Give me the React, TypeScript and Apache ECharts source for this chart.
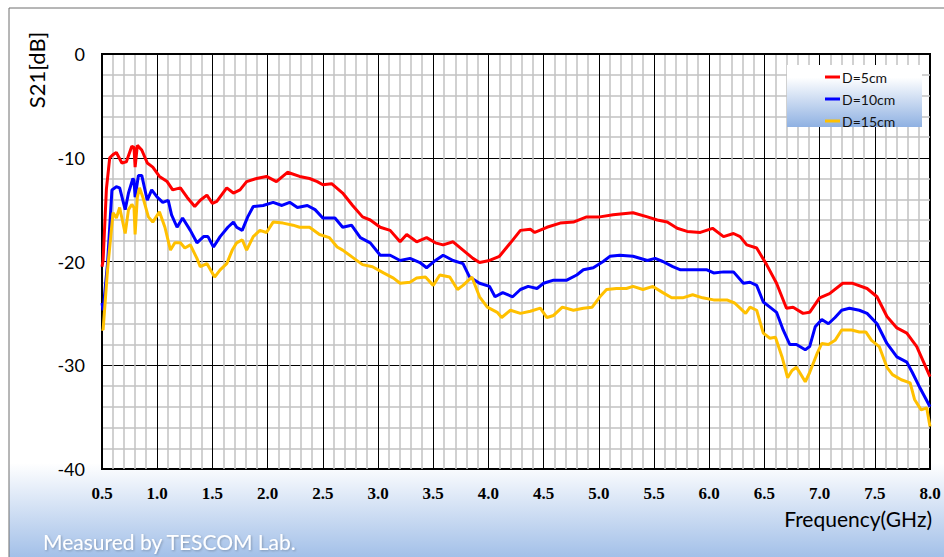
import React, { useEffect, useRef } from "react";
import * as echarts from "echarts";

const xTicks = [0.5, 1.0, 1.5, 2.0, 2.5, 3.0, 3.5, 4.0, 4.5, 5.0, 5.5, 6.0, 6.5, 7.0, 7.5, 8.0];
const yTicks = [0, -10, -20, -30, -40];
const seriesNames = ["D=5cm", "D=10cm", "D=15cm"];
const seriesColors = ["#ff0000", "#0000ff", "#ffc000"];

const red5cm: [number, number][] = [
  [0.5, -20.5], [0.51, -19.9], [0.54, -13], [0.57, -10.0], [0.6, -9.7], [0.63, -9.5], [0.68, -10.5], [0.72, -10.4],
  [0.77, -8.9], [0.79, -9.0], [0.8, -10.9], [0.82, -8.8], [0.86, -9.25], [0.91, -10.5], [0.96, -10.9], [1.02, -11.8],
  [1.09, -12.3], [1.14, -13.1], [1.21, -12.9], [1.27, -13.8], [1.34, -14.7], [1.39, -14.1], [1.45, -13.6], [1.5, -14.4],
  [1.54, -14.2], [1.63, -12.9], [1.69, -13.4], [1.75, -13.1], [1.81, -12.3], [1.9, -12.0], [1.99, -11.8], [2.08, -12.3],
  [2.18, -11.4], [2.29, -11.8], [2.38, -12.0], [2.45, -12.3], [2.5, -12.6], [2.58, -12.5], [2.68, -13.4], [2.77, -14.6],
  [2.86, -15.7], [2.93, -16.0], [3.02, -16.7], [3.11, -17.0], [3.2, -18.1], [3.26, -17.4], [3.35, -18.1], [3.44, -17.7],
  [3.52, -18.2], [3.59, -18.4], [3.68, -18.1], [3.77, -18.9], [3.86, -19.7], [3.92, -20.1], [4.01, -19.9], [4.1, -19.5],
  [4.2, -18.2], [4.29, -17.0], [4.38, -16.9], [4.42, -17.2], [4.53, -16.7], [4.65, -16.3], [4.77, -16.2], [4.89, -15.7],
  [5.01, -15.7], [5.13, -15.5], [5.31, -15.3], [5.44, -15.7], [5.53, -16.0], [5.62, -16.2], [5.71, -16.8], [5.8, -17.1],
  [5.92, -17.2], [6.03, -16.8], [6.13, -17.6], [6.22, -17.3], [6.28, -17.6], [6.34, -18.4], [6.43, -18.7], [6.52, -20.3],
  [6.61, -22.1], [6.7, -24.5], [6.76, -24.4], [6.85, -25.0], [6.91, -24.9], [7.0, -23.5], [7.09, -23.1], [7.21, -22.1],
  [7.3, -22.1], [7.43, -22.6], [7.52, -23.4], [7.61, -25.3], [7.7, -26.4], [7.79, -26.9], [7.88, -28.2], [8.0, -31.1],
];

const blue10cm: [number, number][] = [
  [0.5, -24.0], [0.51, -24.7], [0.55, -20.2], [0.59, -13.1], [0.63, -12.8], [0.66, -12.9], [0.71, -15.0], [0.74, -13.4],
  [0.78, -12.0], [0.79, -12.2], [0.8, -13.8], [0.83, -11.7], [0.86, -11.7], [0.91, -14.1], [0.95, -13.1], [1.0, -13.8],
  [1.05, -14.3], [1.1, -14.1], [1.13, -15.5], [1.18, -16.7], [1.23, -15.8], [1.3, -17.0], [1.36, -18.2], [1.42, -17.6],
  [1.46, -17.6], [1.51, -18.6], [1.57, -17.6], [1.64, -16.7], [1.69, -16.2], [1.72, -16.7], [1.77, -17.0], [1.82, -15.7],
  [1.87, -14.7], [1.96, -14.6], [2.05, -14.3], [2.13, -14.6], [2.2, -14.3], [2.27, -14.8], [2.36, -14.6], [2.43, -15.0],
  [2.5, -15.8], [2.61, -15.8], [2.68, -16.7], [2.76, -16.5], [2.84, -17.7], [2.93, -18.2], [3.02, -19.4], [3.11, -19.4],
  [3.2, -19.9], [3.29, -19.7], [3.38, -20.1], [3.44, -20.6], [3.52, -19.9], [3.59, -19.4], [3.68, -19.9], [3.77, -20.2],
  [3.83, -21.5], [3.92, -22.1], [4.01, -22.4], [4.06, -23.4], [4.13, -23.0], [4.22, -23.4], [4.29, -22.7], [4.36, -22.4],
  [4.44, -22.6], [4.5, -22.1], [4.59, -21.8], [4.71, -21.8], [4.8, -21.3], [4.86, -20.8], [4.95, -20.6], [5.04, -20.0],
  [5.1, -19.5], [5.19, -19.4], [5.31, -19.5], [5.44, -19.9], [5.51, -19.7], [5.58, -20.0], [5.67, -20.5], [5.74, -20.8],
  [5.86, -20.8], [5.98, -20.8], [6.04, -21.1], [6.13, -21.0], [6.22, -21.0], [6.31, -22.1], [6.37, -22.0], [6.43, -22.3],
  [6.49, -23.9], [6.55, -24.4], [6.61, -24.9], [6.67, -26.6], [6.73, -28.0], [6.79, -28.0], [6.87, -28.5], [6.91, -28.2],
  [6.96, -26.3], [7.02, -25.6], [7.08, -26.0], [7.14, -25.4], [7.2, -24.7], [7.27, -24.5], [7.36, -24.7], [7.43, -25.0],
  [7.52, -26.0], [7.61, -27.9], [7.7, -29.2], [7.79, -29.7], [7.84, -30.7], [7.91, -32.2], [8.0, -34.0],
];

const yellow15cm: [number, number][] = [
  [0.5, -26.5], [0.51, -26.6], [0.55, -20.8], [0.6, -15.3], [0.63, -15.8], [0.66, -14.8], [0.71, -17.3], [0.74, -15.0],
  [0.77, -14.5], [0.79, -14.8], [0.8, -17.4], [0.82, -13.8], [0.84, -12.9], [0.87, -13.8], [0.92, -15.7], [0.96, -16.2],
  [1.02, -15.2], [1.07, -16.7], [1.12, -18.9], [1.16, -18.2], [1.21, -18.2], [1.25, -18.7], [1.3, -18.4], [1.36, -19.7],
  [1.39, -20.5], [1.45, -20.2], [1.52, -21.5], [1.57, -20.8], [1.63, -20.2], [1.68, -18.9], [1.72, -18.2], [1.77, -17.9],
  [1.81, -18.9], [1.87, -17.6], [1.93, -17.0], [1.99, -17.2], [2.05, -16.2], [2.14, -16.3], [2.23, -16.5], [2.29, -16.7],
  [2.38, -16.7], [2.47, -17.4], [2.56, -17.7], [2.63, -18.6], [2.68, -18.9], [2.77, -19.6], [2.86, -20.3], [2.95, -20.5],
  [3.05, -21.1], [3.14, -21.6], [3.2, -22.1], [3.29, -22.0], [3.35, -21.6], [3.43, -21.5], [3.5, -22.3], [3.56, -21.3],
  [3.65, -21.5], [3.72, -22.7], [3.77, -22.3], [3.85, -21.5], [3.92, -23.4], [3.99, -24.4], [4.08, -24.9], [4.12, -25.4],
  [4.2, -24.7], [4.29, -25.0], [4.38, -24.8], [4.47, -24.5], [4.53, -25.4], [4.59, -25.2], [4.67, -24.4], [4.77, -24.7],
  [4.86, -24.5], [4.94, -24.4], [5.01, -23.4], [5.07, -22.7], [5.16, -22.6], [5.25, -22.6], [5.31, -22.4], [5.4, -22.7],
  [5.49, -22.4], [5.58, -23.0], [5.66, -23.5], [5.76, -23.5], [5.85, -23.2], [5.94, -23.5], [6.04, -23.7], [6.16, -23.7],
  [6.23, -24.0], [6.28, -24.5], [6.33, -25.0], [6.37, -24.4], [6.43, -24.7], [6.49, -26.9], [6.55, -27.4], [6.6, -27.3],
  [6.66, -29.2], [6.71, -31.2], [6.75, -30.5], [6.79, -30.2], [6.82, -30.7], [6.87, -31.6], [6.91, -30.7], [6.98, -28.8],
  [7.02, -27.9], [7.08, -28.0], [7.14, -27.6], [7.2, -26.6], [7.29, -26.6], [7.36, -26.8], [7.42, -26.8], [7.47, -27.6],
  [7.54, -28.2], [7.61, -30.2], [7.66, -30.9], [7.74, -31.4], [7.82, -31.7], [7.86, -33.3], [7.92, -34.3], [7.97, -34.1],
  [8.0, -35.9],
];

const allSeries = [red5cm, blue10cm, yellow15cm];

const SANS = "Lato, 'Noto Sans', sans-serif";

export default function App() {
  const ref = useRef<HTMLDivElement>(null);
  useEffect(() => {
    if (!ref.current) return;
    const chart = echarts.init(ref.current, null, { renderer: "svg" });
    const option: any = {
      animation: false,
      grid: {
        left: 102,
        right: 14,
        top: 54,
        bottom: 88,
        show: true,
        backgroundColor: "#ffffff",
        borderColor: "#000",
        borderWidth: 2,
      },
      graphic: [
        {
          type: "rect",
          z: -10,
          shape: { x: 9, y: 8, width: 940, height: 555 },
          style: {
            fill: new echarts.graphic.LinearGradient(0, 0, 0, 1, [
              { offset: 0, color: "#ffffff" },
              { offset: 0.82, color: "#ffffff" },
              { offset: 1, color: "#9dbce7" },
            ]),
            stroke: "#6f6f6f",
            lineWidth: 1,
          },
          silent: true,
        },
        {
          type: "rect",
          z: 3,
          shape: { x: 787, y: 65, width: 135, height: 62 },
          style: {
            fill: new echarts.graphic.LinearGradient(0, 0, 0, 1, [
              { offset: 0, color: "#ffffff" },
              { offset: 0.2, color: "#ffffff" },
              { offset: 1, color: "#8fb1e2" },
            ]),
          },
          silent: true,
        },
        {
          type: "text",
          z: 5,
          x: 36,
          y: 70,
          rotation: Math.PI / 2,
          style: {
            text: "S21[dB]",
            font: `22px ${SANS}`,
            fill: "#000",
            textAlign: "center",
            textVerticalAlign: "middle",
          },
        },
        {
          type: "text",
          z: 5,
          x: 932,
          y: 518,
          style: {
            text: "Frequency(GHz)",
            font: `21px ${SANS}`,
            fill: "#000",
            textAlign: "right",
            textVerticalAlign: "middle",
          },
        },
        {
          type: "text",
          z: 5,
          x: 43,
          y: 541,
          style: {
            text: "Measured by TESCOM Lab.",
            font: `21px ${SANS}`,
            fill: "#ffffff",
            textAlign: "left",
            textVerticalAlign: "middle",
            textShadowColor: "rgba(0,0,0,0.25)",
            textShadowBlur: 2,
            textShadowOffsetX: 1,
            textShadowOffsetY: 1,
          },
        },
      ],
      legend: {
        orient: "vertical",
        left: 820,
        top: 65,
        z: 6,
        icon: "rect",
        itemWidth: 15,
        itemHeight: 3,
        itemGap: 8,
        data: seriesNames,
        textStyle: { fontSize: 14, lineHeight: 14, color: "#111", fontFamily: SANS, padding: [0, 0, 0, -3] },
      },
      xAxis: {
        type: "value",
        min: 0.5,
        max: 8,
        interval: 0.5,
        axisLine: { show: true, lineStyle: { color: "#000", width: 2 } },
        axisTick: { show: false },
        axisLabel: {
          margin: 16,
          fontFamily: "'Liberation Serif', 'Times New Roman', serif",
          fontWeight: "bold",
          fontSize: 17,
          color: "#000",
          formatter: (v: number) => (xTicks.includes(v) ? v.toFixed(1) : ""),
        },
        splitLine: { show: true, lineStyle: { color: "#000", width: 1 } },
        minorTick: { show: false, splitNumber: 5 },
        minorSplitLine: { show: true, lineStyle: { color: "#c2c2c2", width: 1.5 } },
      },
      yAxis: {
        type: "value",
        min: -40,
        max: 0,
        interval: 10,
        axisLine: { show: true, lineStyle: { color: "#000", width: 2 } },
        axisTick: { show: false },
        axisLabel: {
          margin: 17,
          fontFamily: SANS,
          fontSize: 18,
          color: "#000",
          formatter: (v: number) => (yTicks.includes(v) ? String(v) : ""),
        },
        splitLine: { show: true, lineStyle: { color: "#000", width: 1 } },
        minorTick: { show: false, splitNumber: 5 },
        minorSplitLine: { show: true, lineStyle: { color: "#c2c2c2", width: 1.5 } },
      },
      series: allSeries.map((d, i) => ({
        name: seriesNames[i],
        type: "line",
        data: d,
        showSymbol: false,
        symbol: "none",
        lineStyle: { color: seriesColors[i], width: 3 },
        itemStyle: { color: seriesColors[i] },
        z: 3,
      })),
    };
    chart.setOption(option);
    return () => chart.dispose();
  }, []);
  return (
    <div
      ref={ref}
      style={{ position: "absolute", left: 0, top: 0, width: 944, height: 557 }}
    />
  );
}
